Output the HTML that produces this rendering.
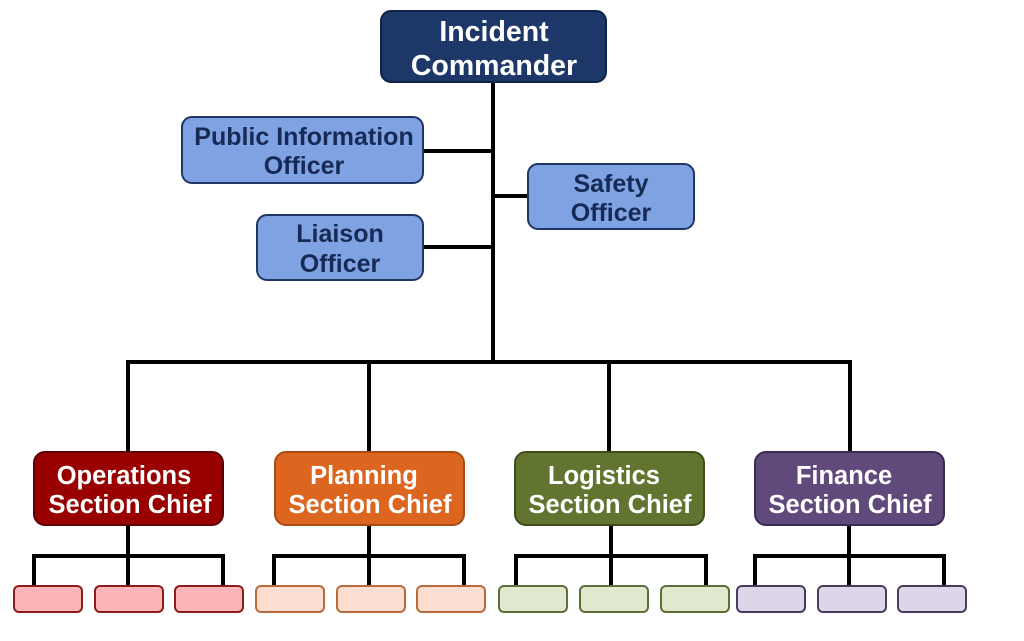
<!DOCTYPE html>
<html>
<head>
<meta charset="utf-8">
<style>
  html, body { margin: 0; padding: 0; background: #ffffff; }
  svg { display: block; }
  text { font-family: "Liberation Sans", Arial, sans-serif; font-weight: bold; text-anchor: middle; }
</style>
</head>
<body>
<svg width="1024" height="641" viewBox="0 0 1024 641" xmlns="http://www.w3.org/2000/svg">
  <rect x="0" y="0" width="1024" height="641" fill="#ffffff"/>

  <!-- connectors -->
  <g stroke="#000" stroke-width="4" fill="none" stroke-linecap="butt">
    <line x1="493" y1="82" x2="493" y2="362"/>
    <line x1="423" y1="151" x2="495" y2="151"/>
    <line x1="491" y1="196" x2="528" y2="196"/>
    <line x1="423" y1="247" x2="495" y2="247"/>
    <polyline points="128,453 128,362 850,362 850,453"/>
    <line x1="369" y1="360" x2="369" y2="453"/>
    <line x1="609" y1="360" x2="609" y2="453"/>

    <line x1="128" y1="525" x2="128" y2="586"/>
    <polyline points="34,586 34,556 223,556 223,586"/>
    <line x1="369" y1="525" x2="369" y2="586"/>
    <polyline points="274,586 274,556 464,556 464,586"/>
    <line x1="611" y1="525" x2="611" y2="586"/>
    <polyline points="516,586 516,556 706,556 706,586"/>
    <line x1="849" y1="525" x2="849" y2="586"/>
    <polyline points="755,586 755,556 944,556 944,586"/>
  </g>

  <!-- Incident Commander -->
  <rect x="381" y="11" width="225" height="71" rx="10" fill="#1c3768" stroke="#0f2247" stroke-width="2"/>
  <text x="494" y="41" font-size="28.5" fill="#ffffff">Incident</text>
  <text x="494" y="75" font-size="28.5" fill="#ffffff">Commander</text>

  <!-- Staff officers -->
  <g fill="#7fa2e2" stroke="#1f3566" stroke-width="2">
    <rect x="182" y="117" width="241" height="66" rx="10"/>
    <rect x="528" y="164" width="166" height="65" rx="10"/>
    <rect x="257" y="215" width="166" height="65" rx="10"/>
  </g>
  <g font-size="25" fill="#172a55">
    <text x="304" y="145">Public Information</text>
    <text x="304" y="174">Officer</text>
    <text x="611" y="192">Safety</text>
    <text x="611" y="221">Officer</text>
    <text x="340" y="242">Liaison</text>
    <text x="340" y="272">Officer</text>
  </g>

  <!-- Section chiefs -->
  <rect x="34" y="452" width="189" height="73" rx="11" fill="#990000" stroke="#5c0000" stroke-width="2"/>
  <rect x="275" y="452" width="189" height="73" rx="11" fill="#dc6620" stroke="#a84c14" stroke-width="2"/>
  <rect x="515" y="452" width="189" height="73" rx="11" fill="#627530" stroke="#3e4c1c" stroke-width="2"/>
  <rect x="755" y="452" width="189" height="73" rx="11" fill="#604a7b" stroke="#3a2b52" stroke-width="2"/>
  <g font-size="25.5" fill="#ffffff">
    <text x="124" y="484">Operations</text>
    <text x="130" y="513">Section Chief</text>
    <text x="364" y="484">Planning</text>
    <text x="370" y="513">Section Chief</text>
    <text x="604" y="484">Logistics</text>
    <text x="610" y="513">Section Chief</text>
    <text x="844" y="484">Finance</text>
    <text x="850" y="513">Section Chief</text>
  </g>

  <!-- sub boxes -->
  <g stroke-width="2">
    <g fill="#ffb5b5" stroke="#8a1c1c">
      <rect x="14" y="586" width="68" height="26" rx="5"/>
      <rect x="95" y="586" width="68" height="26" rx="5"/>
      <rect x="175" y="586" width="68" height="26" rx="5"/>
    </g>
    <g fill="#fbdecf" stroke="#b86a3a">
      <rect x="256" y="586" width="68" height="26" rx="5"/>
      <rect x="337" y="586" width="68" height="26" rx="5"/>
      <rect x="417" y="586" width="68" height="26" rx="5"/>
    </g>
    <g fill="#e0e9cd" stroke="#5e6d3a">
      <rect x="499" y="586" width="68" height="26" rx="5"/>
      <rect x="580" y="586" width="68" height="26" rx="5"/>
      <rect x="661" y="586" width="68" height="26" rx="5"/>
    </g>
    <g fill="#ddd6e8" stroke="#4a3a5e">
      <rect x="737" y="586" width="68" height="26" rx="5"/>
      <rect x="818" y="586" width="68" height="26" rx="5"/>
      <rect x="898" y="586" width="68" height="26" rx="5"/>
    </g>
  </g>
</svg>
</body>
</html>
